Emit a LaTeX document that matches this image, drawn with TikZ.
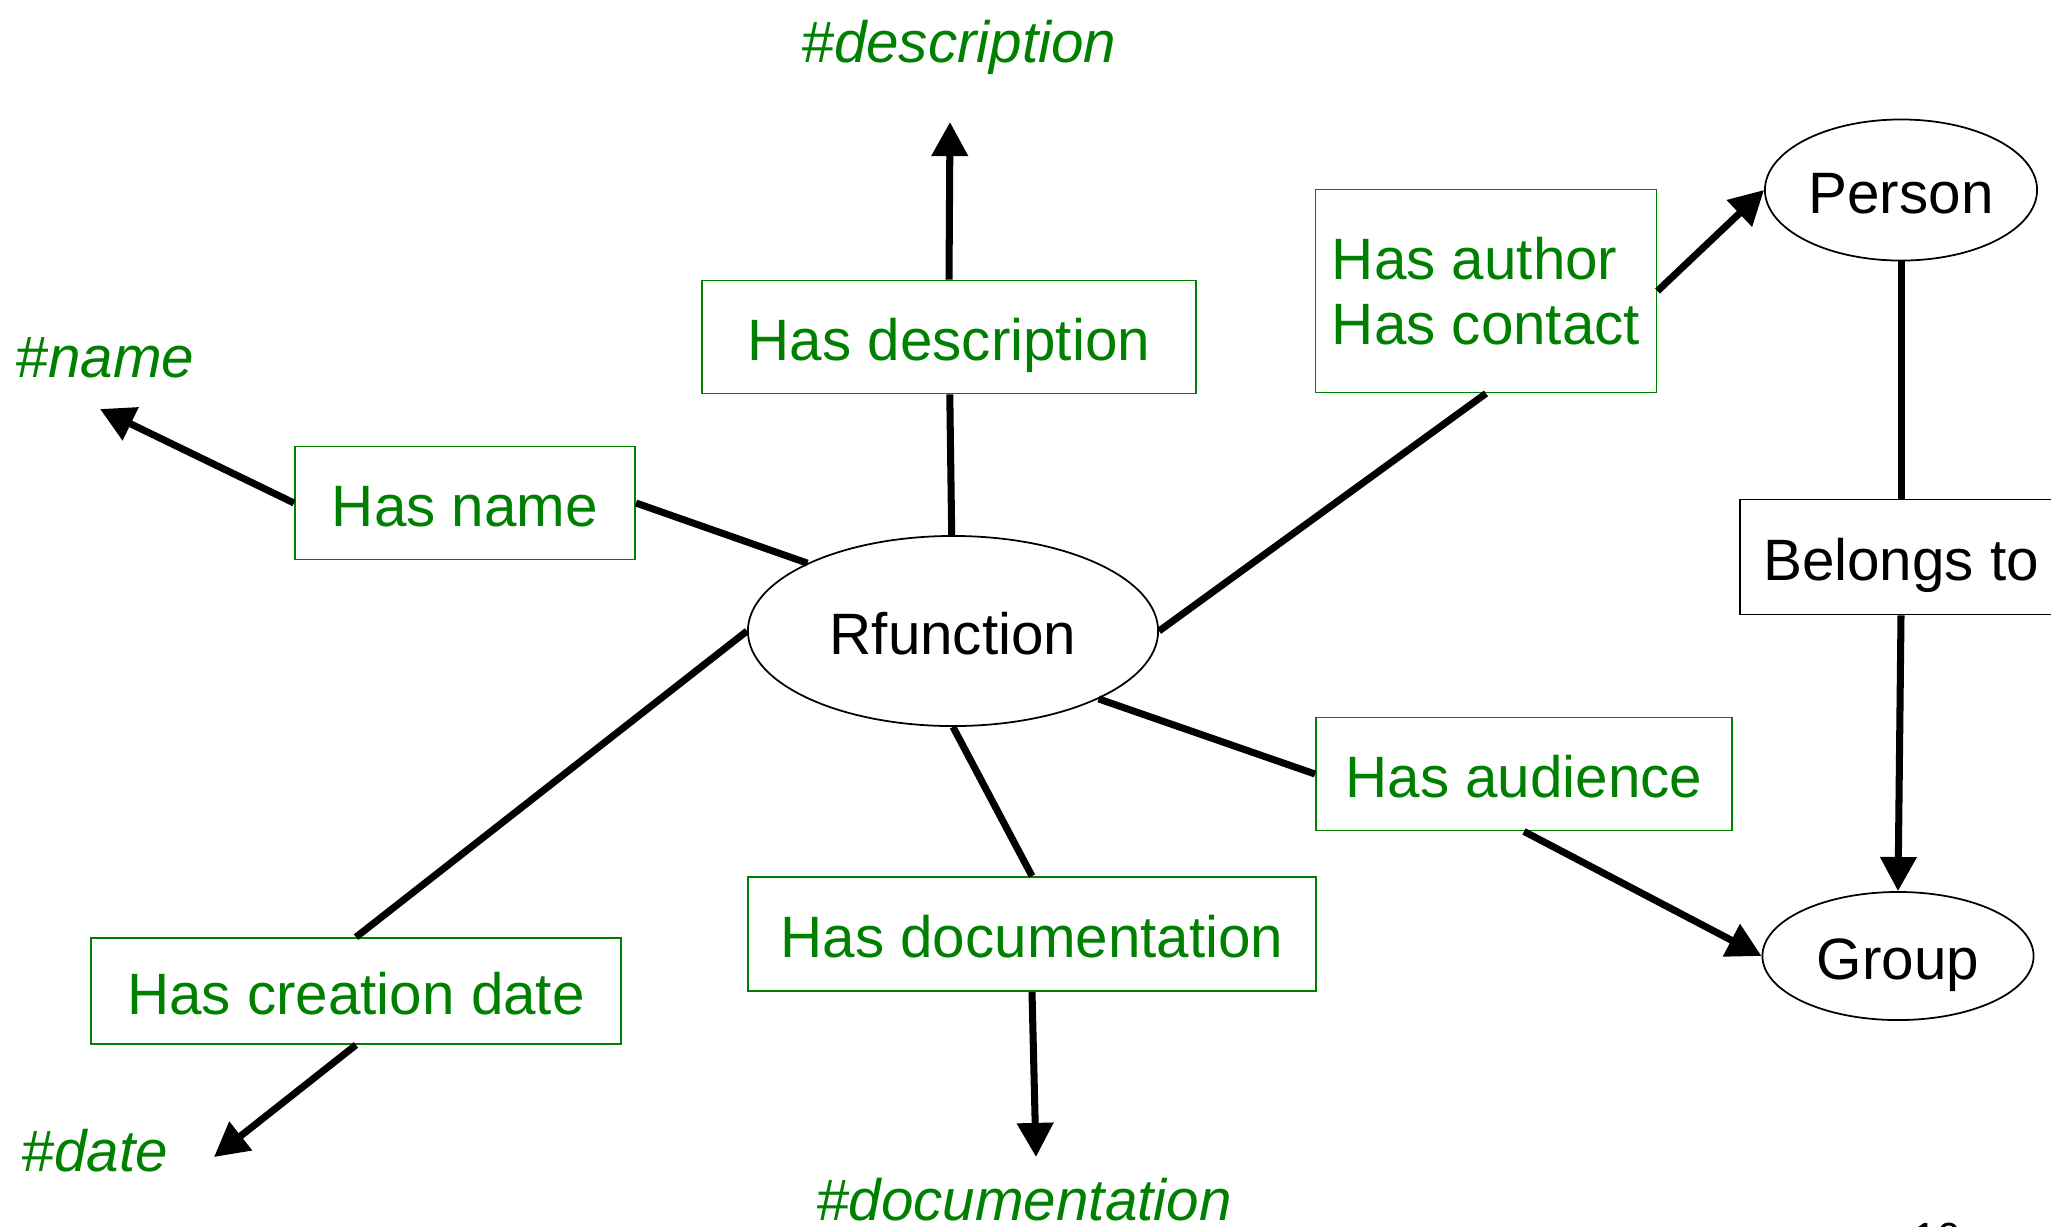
\documentclass[tikz,border=0pt]{standalone}
\usepackage{fontspec}
\setmainfont{Liberation Sans}
\usepackage{tikz}
\usepackage{xcolor}
\usetikzlibrary{arrows.meta,shapes.geometric}

\definecolor{relgreen}{RGB}{0,128,0}

\begin{document}
\begin{tikzpicture}[x=0.01cm, y=-0.01cm,
    font=\fontsize{16.6}{18.5}\selectfont,
    relframe/.style={draw=relgreen, line width=0.5pt, text=relgreen, inner sep=0pt},
    relation/.style={relframe, text height=13.3pt, text depth=0pt},
    concept/.style={draw, ellipse, line width=0.5pt, inner sep=0pt, text height=13.3pt, text depth=0pt},
    literal/.style={text=relgreen, font=\fontsize{16.6}{18.5}\selectfont\itshape, anchor=base, inner sep=0pt},
    link/.style={line width=2pt},
    arrow/.style={link, -{Triangle[length=9.7pt, width=10pt]}}]
    \useasboundingbox (0,0) rectangle (2051,1226);

    % Concepts
    \node[concept, minimum width=4.1cm, minimum height=1.9cm] (rfunc) at (953,631) {Rfunction};
    \node[concept, minimum width=2.72cm, minimum height=1.41cm] (person) at (1901,190) {Person};
    \node[concept, minimum width=2.71cm, minimum height=1.28cm] (group) at (1898,956) {Group};

    % Relations
    \node[relation, minimum width=4.93cm, minimum height=1.13cm] (hasdesc) at (949,337) {Has description};
    \node[relation, minimum width=3.4cm, minimum height=1.13cm] (hasname) at (465,503) {Has name};
    \node[relframe, minimum width=3.41cm, minimum height=2.03cm, align=left] (hasauthor) at (1486,291) {Has author\\Has contact};
    \node[relation, minimum width=4.16cm, minimum height=1.13cm] (hasaud) at (1524,774) {Has audience};
    \node[relation, minimum width=5.67cm, minimum height=1.14cm] (hasdoc) at (1032,934) {Has documentation};
    \node[relation, minimum width=5.3cm, minimum height=1.06cm] (hascreate) at (356,991) {Has creation date};
    \node[draw, line width=0.5pt, inner sep=0pt, text height=13.3pt, text depth=0pt,
          minimum width=3.22cm, minimum height=1.15cm] (belongs) at (1901,557) {Belongs to};

    % Literal values
    \node[literal] (descval) at (959,62) {\#description};
    \node[literal] (nameval) at (105,377) {\#name};
    \node[literal] (dateval) at (95,1171) {\#date};
    \node[literal] (docval) at (1024,1220) {\#documentation};

    % Page number, cut by the page edge
    \node[anchor=base, inner sep=0pt, font=\fontsize{12}{14}\selectfont] (pagenum) at (1937,1252) {10};

    % Free arrow ends
    \coordinate (desctip) at (950,122);
    \coordinate (nametip) at (100,409);
    \coordinate (datetip) at (214,1157);
    \coordinate (doctip) at (1036,1157);

    % Links
    \draw[link] (hasdesc) -- (rfunc);
    \draw[arrow] (hasdesc.north) -- (desctip);
    \draw[link] (hasname.east) -- (rfunc.155);
    \draw[arrow] (hasname.west) -- (nametip);
    \draw[link] (rfunc.east) -- (hasauthor.south);
    \draw[arrow] (hasauthor.east) -- (person.west);
    \draw[link] (rfunc.-25) -- (hasaud.west);
    \draw[arrow] (hasaud.south) -- (group.west);
    \draw[link] (rfunc.south) -- (hasdoc.north);
    \draw[arrow] (hasdoc.south) -- (doctip);
    \draw[link] (rfunc.west) -- (hascreate.north);
    \draw[arrow] (hascreate.south) -- (datetip);
    \draw[link] (person.south) -- (belongs.north);
    \draw[arrow] (belongs.south) -- (group.north);
\end{tikzpicture}
\end{document}
